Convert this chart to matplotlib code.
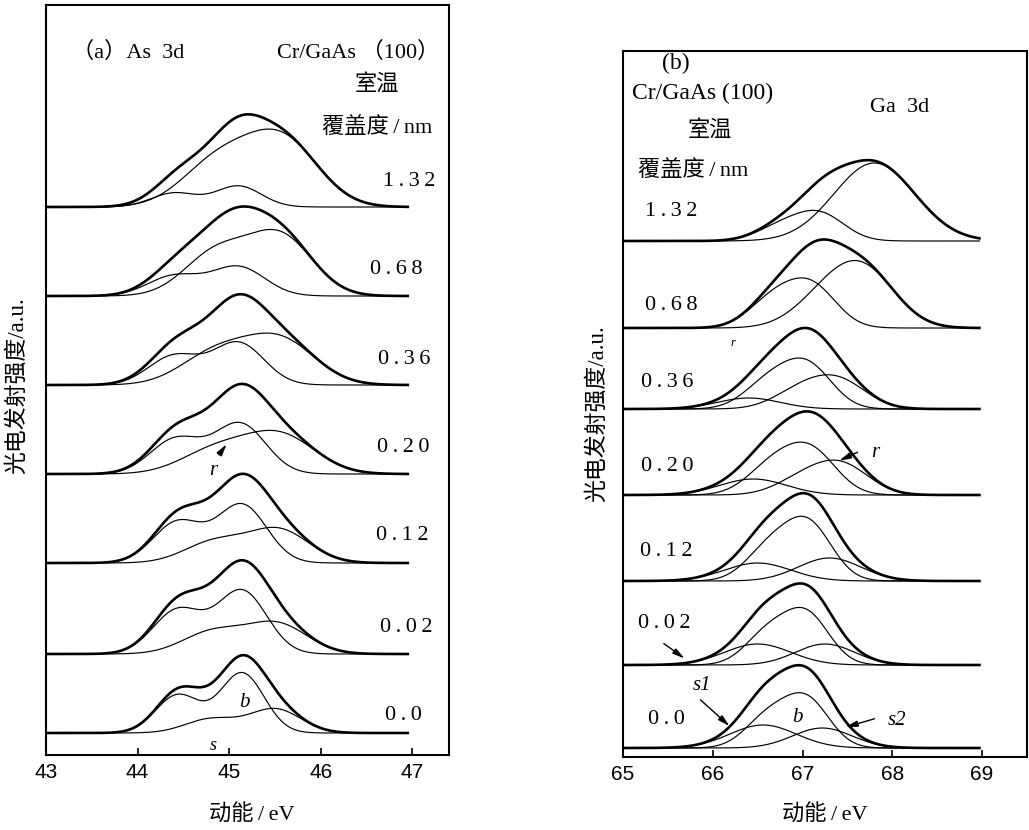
import numpy as np
import matplotlib
matplotlib.use('Agg')
import matplotlib.pyplot as plt

# 字体: 西文用衬线体, 中文回退到 Noto Sans CJK, 细空格回退到 DejaVu
plt.rcParams['font.family'] = ['Liberation Serif', 'Noto Sans CJK SC', 'DejaVu Sans']
plt.rcParams['axes.unicode_minus'] = False

TS = '\u2009'  # thin space, 模仿原图的字距

# 覆盖度 (从下到上)
coverage = ['0.0', '0.02', '0.12', '0.20', '0.36', '0.68', '1.32']

# 拟合分量: (E_5/2 峰位 eV, A_5/2, A_3/2, sigma eV), None 表示没有该分量
as_split = 0.70
as_b = [(45.14, 60, 38, 0.24), (45.14, 63, 44, 0.27), (45.14, 58, 41, 0.27),
        (45.12, 50, 35, 0.28), (45.10, 42, 29, 0.28), (45.10, 29, 20, 0.29),
        (45.10, 21, 14, 0.25)]
as_r = [(45.50, 24, 14, 0.28), (45.52, 30, 22, 0.33), (45.54, 33, 21, 0.33),
        (45.56, 38, 24, 0.38), (45.56, 44, 32, 0.38), (45.56, 59, 43, 0.35),
        (45.58, 66, 45, 0.39)]

ga_split = 0.44
ga_b = [(67.05, 47, 30, 0.25), (67.05, 49, 31, 0.25), (67.07, 55, 32, 0.26),
        (67.10, 42, 28, 0.28), (67.06, 42, 26, 0.27), (67.11, 40, 28, 0.27),
        (67.20, 26, 14, 0.27)]
ga_s1 = [(66.56, 23, 0, 0.37), (66.50, 21, 0, 0.37), (66.50, 18, 0, 0.37),
         (66.45, 16, 0, 0.37), (66.40, 11, 0, 0.35), None, None]
ga_s2 = [(67.22, 20, 0, 0.33), (67.25, 21, 0, 0.33), (67.30, 23, 0, 0.35),
         None, None, None, None]
ga_r = [None, None, None, (67.45, 28, 16, 0.30), (67.42, 26, 18, 0.30),
        (67.70, 52, 28, 0.35), (67.80, 78, 0, 0.45)]

# 版面: 各谱基线位置 (任意单位)
as_base = [22, 101, 192, 281, 370, 459, 548]
ga_base = [9, 92, 176, 262, 348, 429, 516]


def doublet(e, comp, split):
    e1, a1, a2, sig = comp
    return (a1 * np.exp(-(e - e1) ** 2 / (2 * sig ** 2))
            + a2 * np.exp(-(e - e1 + split) ** 2 / (2 * sig ** 2)))


def draw_stack(ax, e, comp_lists, split, bases):
    for i, base in enumerate(bases):
        comps = [c[i] for c in comp_lists if c[i] is not None]
        curves = [doublet(e, c, split) for c in comps]
        for y in curves:
            ax.plot(e, base + y, color='k', lw=0.85)
        ax.plot(e, base + np.sum(curves, axis=0), color='k', lw=1.9)


def style_axes(ax, xlim, ylim, ticks):
    ax.set_xlim(*xlim)
    ax.set_ylim(*ylim)
    ax.set_xticks(ticks)
    ax.set_yticks([])
    for sp in ax.spines.values():
        sp.set_linewidth(1.5)
    ax.tick_params(axis='x', direction='in', length=5, width=1.2, pad=6,
                   labelsize=15)
    for lab in ax.get_xticklabels():
        lab.set_family('Liberation Sans')


def spaced(s):
    return TS.join(s)


fig = plt.figure(figsize=(10.29, 8.30), dpi=100)
ax1 = fig.add_axes([46 / 1029, 75 / 830, 403 / 1029, 750 / 830])
ax2 = fig.add_axes([623 / 1029, 73 / 830, 404 / 1029, 706 / 830])

arrow = dict(arrowstyle='-|>,head_length=0.7,head_width=0.18', lw=1.0, color='k')

# (a) As 3d
e_as = np.linspace(43.0, 46.95, 800)
draw_stack(ax1, e_as, [as_b, as_r], as_split, as_base)
style_axes(ax1, (43, 47.4), (0, 750), [43, 44, 45, 46, 47])

ax1.text(43.28, 703, '（a）As  3d', fontsize=16, va='center')
ax1.text(45.52, 703, 'Cr/GaAs （100）', fontsize=16, va='center')
ax1.text(46.61, 671, '室温', fontsize=16, va='center', ha='center')
ax1.text(46.01, 628, '覆盖度' + TS + '/' + TS + 'nm', fontsize=16, va='center')
as_lab_pos = [(46.70, 40), (46.65, 128), (46.60, 220), (46.61, 308),
              (46.62, 395), (46.54, 485), (46.68, 573)]
for lab, (x, y) in zip(coverage, as_lab_pos):
    ax1.text(x, y, spaced(lab), fontsize=16, va='center')
ax1.text(45.17, 53, 'b', fontsize=15, style='italic', ha='center', va='center')
ax1.text(44.83, 10, 's', fontsize=13, style='italic', ha='center', va='center')
ax1.annotate('', xy=(44.99, 313), xytext=(44.87, 298), arrowprops=arrow)
ax1.text(44.83, 285, 'r', fontsize=15, style='italic', ha='center', va='center')

ax1.set_xlabel('动能' + TS + '/' + TS + 'eV', fontsize=16)
ax1.xaxis.set_label_coords(0.511, -0.066)
ax1.set_ylabel('光电发射强度/a.u.', fontsize=16.5)
ax1.yaxis.set_label_coords(-0.045, 0.493)

# (b) Ga 3d
e_ga = np.linspace(65.0, 68.97, 800)
draw_stack(ax2, e_ga, [ga_b, ga_s1, ga_s2, ga_r], ga_split, ga_base)
style_axes(ax2, (65, 69.5), (0, 706), [65, 66, 67, 68, 69])

ax2.text(65.43, 694, '(b)', fontsize=17, va='center')
ax2.text(65.10, 664, 'Cr/GaAs (100)', fontsize=17, va='center')
ax2.text(67.75, 650, 'Ga  3d', fontsize=16, va='center')
ax2.text(65.97, 627, '室温', fontsize=16, va='center', ha='center')
ax2.text(65.17, 587, '覆盖度' + TS + '/' + TS + 'nm', fontsize=16, va='center')
ga_lab_pos = [(65.28, 38), (65.17, 134), (65.19, 205), (65.20, 291),
              (65.20, 375), (65.24, 452), (65.24, 545)]
for lab, (x, y) in zip(coverage, ga_lab_pos):
    ax2.text(x, y, spaced(lab), fontsize=16, va='center')

ax2.text(66.94, 40, 'b', fontsize=15, style='italic', ha='center', va='center')
ax2.annotate('', xy=(66.21, 29), xytext=(65.84, 59), arrowprops=arrow)
ax2.text(65.88, 72, 's1', fontsize=15, style='italic', ha='center', va='center')
ax2.annotate('', xy=(67.45, 29), xytext=(67.83, 39), arrowprops=arrow)
ax2.text(68.05, 37, 's2', fontsize=15, style='italic', ha='center', va='center')
ax2.annotate('', xy=(65.71, 97), xytext=(65.43, 115), arrowprops=arrow)
ax2.annotate('', xy=(67.38, 295), xytext=(67.64, 306), arrowprops=arrow)
ax2.text(67.81, 305, 'r', fontsize=15, style='italic', ha='center', va='center')
ax2.text(66.22, 414, 'r', fontsize=9, style='italic', ha='center', va='center')

ax2.set_xlabel('动能' + TS + '/' + TS + 'eV', fontsize=16)
ax2.xaxis.set_label_coords(0.50, -0.068)
ax2.set_ylabel('光电发射强度/a.u.', fontsize=16.5)
ax2.yaxis.set_label_coords(-0.038, 0.487)

fig.savefig('out.png', dpi=100)
